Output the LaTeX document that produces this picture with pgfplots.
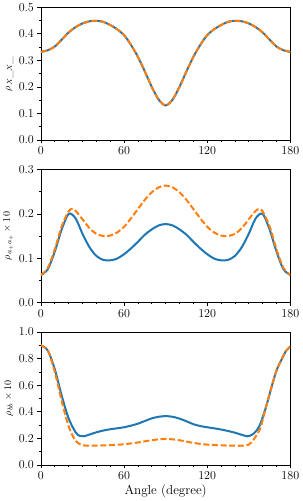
\documentclass[border=0pt]{standalone}
\usepackage{pgfplots}
\pgfplotsset{compat=1.18}
\definecolor{mblue}{HTML}{1F77B4}
\definecolor{morange}{HTML}{FF7F0E}
\pgfplotsset{
  mystyle/.style={
    scale only axis, width=248pt, height=132pt,
    xmin=0, xmax=180, xtick={0,60,120,180}, minor x tick num=5,
    minor y tick num=1,
    axis line style={line width=0.6pt},
    tick align=outside, tick pos=left,
    major tick length=3.5pt, minor tick length=2pt,
    every tick/.style={black, line width=0.6pt},
    ticklabel style={font=\fontsize{13}{15}\selectfont},
    label style={font=\fontsize{13}{15}\selectfont},
    yticklabel style={/pgf/number format/.cd, fixed, fixed zerofill, precision=1},
    every axis y label/.style={at={(axis description cs:-0.097,0.5)}, anchor=south, rotate=90},
    clip=true,
  },
  blueline/.style={color=mblue, line width=2pt, smooth, no marks},
  orangeline/.style={color=morange, line width=2pt, smooth, no marks, dash pattern=on 6pt off 2.6pt},
}
\begin{document}
\begin{tikzpicture}
% Panel 1
\begin{axis}[mystyle, at={(0,323pt)}, ymin=0, ymax=0.5, ytick={0,0.1,0.2,0.3,0.4,0.5},
  ylabel={$\rho_{X\_X\_}$}]
\addplot[blueline] coordinates {
(0,0.332)(5,0.338)(10,0.352)(15,0.378)(20,0.405)(25,0.425)(30,0.439)(35,0.447)(40,0.449)(45,0.445)
(50,0.433)(55,0.417)(60,0.395)(65,0.358)(70,0.313)(75,0.258)(80,0.200)(85,0.152)(90,0.130)
(95,0.152)(100,0.200)(105,0.258)(110,0.313)(115,0.358)(120,0.395)(125,0.417)(130,0.433)(135,0.445)
(140,0.449)(145,0.447)(150,0.439)(155,0.425)(160,0.405)(165,0.378)(170,0.352)(175,0.338)(180,0.332)};
\addplot[orangeline] coordinates {
(0,0.332)(5,0.338)(10,0.352)(15,0.378)(20,0.405)(25,0.425)(30,0.439)(35,0.447)(40,0.449)(45,0.445)
(50,0.433)(55,0.417)(60,0.395)(65,0.358)(70,0.313)(75,0.258)(80,0.200)(85,0.152)(90,0.130)
(95,0.152)(100,0.200)(105,0.258)(110,0.313)(115,0.358)(120,0.395)(125,0.417)(130,0.433)(135,0.445)
(140,0.449)(145,0.447)(150,0.439)(155,0.425)(160,0.405)(165,0.378)(170,0.352)(175,0.338)(180,0.332)};
\end{axis}
% Panel 2
\begin{axis}[mystyle, at={(0,161.5pt)}, ymin=0, ymax=0.3, ytick={0,0.1,0.2,0.3},
  ylabel={$\rho_{a_+a_+}\times 10$}]
\addplot[blueline] coordinates {
(0,0.062)(5,0.075)(10,0.115)(15,0.165)(20,0.200)(25,0.190)(30,0.155)(35,0.125)(40,0.105)(45,0.096)
(50,0.095)(55,0.099)(60,0.109)(65,0.122)(70,0.137)(75,0.153)(80,0.165)(85,0.174)(90,0.177)
(95,0.174)(100,0.165)(105,0.153)(110,0.137)(115,0.122)(120,0.109)(125,0.099)(130,0.095)(135,0.096)
(140,0.105)(145,0.125)(150,0.155)(155,0.190)(160,0.200)(165,0.165)(170,0.115)(175,0.075)(180,0.062)};
\addplot[orangeline] coordinates {
(0,0.062)(5,0.078)(10,0.120)(15,0.172)(20,0.206)(22.5,0.211)(25,0.207)(30,0.188)(35,0.168)(40,0.155)(45,0.150)
(50,0.151)(55,0.158)(60,0.171)(65,0.190)(70,0.211)(75,0.232)(80,0.249)(85,0.260)(90,0.264)
(95,0.260)(100,0.249)(105,0.232)(110,0.211)(115,0.190)(120,0.171)(125,0.158)(130,0.151)(135,0.150)
(140,0.155)(145,0.168)(150,0.188)(155,0.207)(157.5,0.211)(160,0.206)(165,0.172)(170,0.120)(175,0.078)(180,0.062)};
\end{axis}
% Panel 3
\begin{axis}[mystyle, at={(0,0)}, ymin=0, ymax=1.0, ytick={0,0.2,0.4,0.6,0.8,1.0},
  ylabel={$\rho_{bb}\times 10$}, xlabel={Angle (degree)}, xlabel shift=-2pt]
\addplot[blueline] coordinates {
(0,0.900)(5,0.860)(10,0.720)(15,0.520)(20,0.350)(25,0.245)(28,0.218)(31,0.215)(35,0.228)(40,0.245)(45,0.258)
(50,0.268)(55,0.275)(60,0.283)(65,0.295)(70,0.310)(75,0.330)(80,0.350)(85,0.362)(90,0.367)
(95,0.362)(100,0.348)(105,0.328)(110,0.306)(115,0.292)(120,0.283)(125,0.275)(130,0.266)(135,0.255)
(140,0.242)(145,0.226)(149,0.215)(152,0.225)(155,0.250)(158,0.300)(162,0.420)(166,0.570)(170,0.710)(174,0.800)(177,0.860)(180,0.890)};
\addplot[orangeline] coordinates {
(0,0.900)(5,0.860)(10,0.700)(15,0.480)(20,0.290)(25,0.180)(30,0.148)(35,0.144)(40,0.145)(45,0.146)
(50,0.148)(55,0.151)(60,0.155)(65,0.161)(70,0.168)(75,0.177)(80,0.185)(85,0.192)(90,0.195)
(95,0.192)(100,0.185)(105,0.175)(110,0.165)(115,0.158)(120,0.152)(125,0.149)(130,0.147)(135,0.145)
(140,0.144)(145,0.144)(150,0.152)(153.5,0.190)(156,0.230)(158.5,0.280)(162,0.420)(166,0.570)(170,0.710)(174,0.800)(177,0.860)(180,0.890)};
\end{axis}
\end{tikzpicture}
\end{document}
